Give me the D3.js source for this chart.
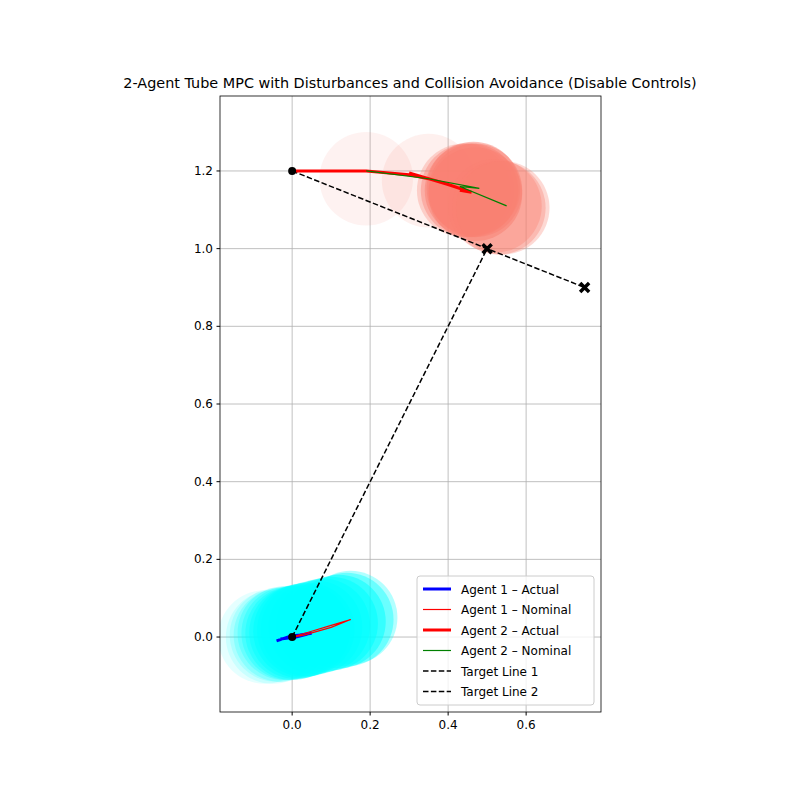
<!DOCTYPE html>
<html><head><meta charset="utf-8">
<script src="https://cdn.jsdelivr.net/npm/d3@7"></script>
<style>body{margin:0;background:#fff}text{font-family:"DejaVu Sans",sans-serif}</style>
</head><body><svg id="c" width="800" height="800"></svg>
<script>
const title="2-Agent Tube MPC with Disturbances and Collision Avoidance (Disable Controls)";
const xTicks=[0.0,0.2,0.4,0.6];
const yTicks=[0.0,0.2,0.4,0.6,0.8,1.0,1.2];
// tube centers [x,y,opacity]
const tube1=[[-0.07,0.0,0.1],[-0.05,0.0,0.12],[-0.04,0.005,0.15],[-0.03,0.005,0.2],[-0.02,0.01,0.25],[-0.01,0.01,0.3],[0.0,0.01,0.35],[0.01,0.012,0.4],[0.02,0.015,0.5],[0.03,0.018,0.5],[0.04,0.02,0.5],[0.06,0.025,0.5],[0.08,0.03,0.5],[0.1,0.035,0.5],[0.12,0.04,0.5],[0.14,0.045,0.4],[0.15,0.05,0.3]];
const tube2=[[0.19,1.18,0.1],[0.35,1.175,0.12],[0.44,1.15,0.3],[0.45,1.15,0.4],[0.46,1.15,0.5],[0.465,1.155,0.5],[0.47,1.15,0.5],[0.47,1.14,0.5],[0.52,1.11,0.35],[0.53,1.105,0.35],[0.54,1.105,0.3]];
const a1Actual=[[-0.04,-0.01],[-0.01,0.0],[0.0,0.003],[0.02,0.005],[0.05,0.01],[0.01,0.0],[-0.03,-0.005]];
const a1Nominal=[[0.0,0.0],[0.05,0.015],[0.1,0.03],[0.15,0.045],[0.1,0.025],[0.03,0.005],[0.0,0.0]];
const a2Actual=[[0.0,1.2],[0.19,1.2],[0.3,1.19],[0.35,1.18],[0.3,1.195],[0.4,1.165],[0.46,1.145],[0.43,1.15]];
const a2Nominal=[[0.19,1.2],[0.35,1.18],[0.48,1.155],[0.43,1.16],[0.55,1.11]];
const target1=[[0,0],[0.5,1.0]];
const target2=[[0,1.2],[0.75,0.9]];
const svg=d3.select("#c");
const L=220,R=601,T=96,B=712;
const x=d3.scaleLinear().domain([-0.185,0.792]).range([L,R]);
const y=d3.scaleLinear().domain([-0.193,1.393]).range([B,T]);
svg.append("defs").append("clipPath").attr("id","cp").append("rect").attr("x",L).attr("y",T).attr("width",R-L).attr("height",B-T);
const g=svg.append("g").attr("clip-path","url(#cp)");
xTicks.forEach(t=>g.append("line").attr("x1",x(t)).attr("x2",x(t)).attr("y1",T).attr("y2",B).attr("stroke","#b0b0b0").attr("stroke-width",0.8));
yTicks.forEach(t=>g.append("line").attr("y1",y(t)).attr("y2",y(t)).attr("x1",L).attr("x2",R).attr("stroke","#b0b0b0").attr("stroke-width",0.8));
const rad=x(0.12)-x(0);
tube1.forEach(d=>g.append("circle").attr("cx",x(d[0])).attr("cy",y(d[1])).attr("r",rad).attr("fill","cyan").attr("opacity",d[2]));
tube2.forEach(d=>g.append("circle").attr("cx",x(d[0])).attr("cy",y(d[1])).attr("r",rad).attr("fill","salmon").attr("opacity",d[2]));
const line=d3.line().x(d=>x(d[0])).y(d=>y(d[1]));
function path(data,col,w,dash){g.append("path").attr("d",line(data)).attr("fill","none").attr("stroke",col).attr("stroke-width",w).attr("stroke-dasharray",dash||null);}
path(target1,"black",1.5,"5.5,2.4");
path(target2,"black",1.5,"5.5,2.4");
path(a1Actual,"blue",3);
path(a1Nominal,"red",1.2);
path(a2Actual,"red",3);
path(a2Nominal,"green",1.2);
function xmark(p){const cx=x(p[0]),cy=y(p[1]),s=4.5;g.append("path").attr("d",`M${cx-s},${cy-s}L${cx+s},${cy+s}M${cx-s},${cy+s}L${cx+s},${cy-s}`).attr("stroke","black").attr("stroke-width",3.5);}
[target1[0],target2[0]].forEach(p=>g.append("circle").attr("cx",x(p[0])).attr("cy",y(p[1])).attr("r",4).attr("fill","black"));
xmark(target1[1]);xmark(target2[1]);
svg.append("rect").attr("x",L).attr("y",T).attr("width",R-L).attr("height",B-T).attr("fill","none").attr("stroke","black").attr("stroke-width",0.8);
xTicks.forEach(t=>{svg.append("line").attr("x1",x(t)).attr("x2",x(t)).attr("y1",B).attr("y2",B+3.5).attr("stroke","black");svg.append("text").attr("x",x(t)).attr("y",B+17).attr("text-anchor","middle").attr("font-size",12).text(t.toFixed(1));});
yTicks.forEach(t=>{svg.append("line").attr("x1",L-3.5).attr("x2",L).attr("y1",y(t)).attr("y2",y(t)).attr("stroke","black");svg.append("text").attr("x",L-7).attr("y",y(t)+4).attr("text-anchor","end").attr("font-size",12).text(t.toFixed(1));});
svg.append("text").attr("x",(L+R)/2+0).attr("x",410).attr("y",88).attr("text-anchor","middle").attr("font-size",14.4).text(title);
const leg=[["Agent 1 – Actual","blue",3,null],["Agent 1 – Nominal","red",1.2,null],["Agent 2 – Actual","red",3,null],["Agent 2 – Nominal","green",1.2,null],["Target Line 1","black",1.5,"5.5,2.4"],["Target Line 2","black",1.5,"5.5,2.4"]];
svg.append("rect").attr("x",417).attr("y",576).attr("width",177).attr("height",129).attr("rx",3).attr("fill","white").attr("fill-opacity",0.8).attr("stroke","#ccc");
leg.forEach((d,i)=>{const yy=589+i*20.5;svg.append("line").attr("x1",423).attr("x2",451).attr("y1",yy).attr("y2",yy).attr("stroke",d[1]).attr("stroke-width",d[2]).attr("stroke-dasharray",d[3]);svg.append("text").attr("x",461).attr("y",yy+4.5).attr("font-size",12).text(d[0]);});
</script></body></html>
